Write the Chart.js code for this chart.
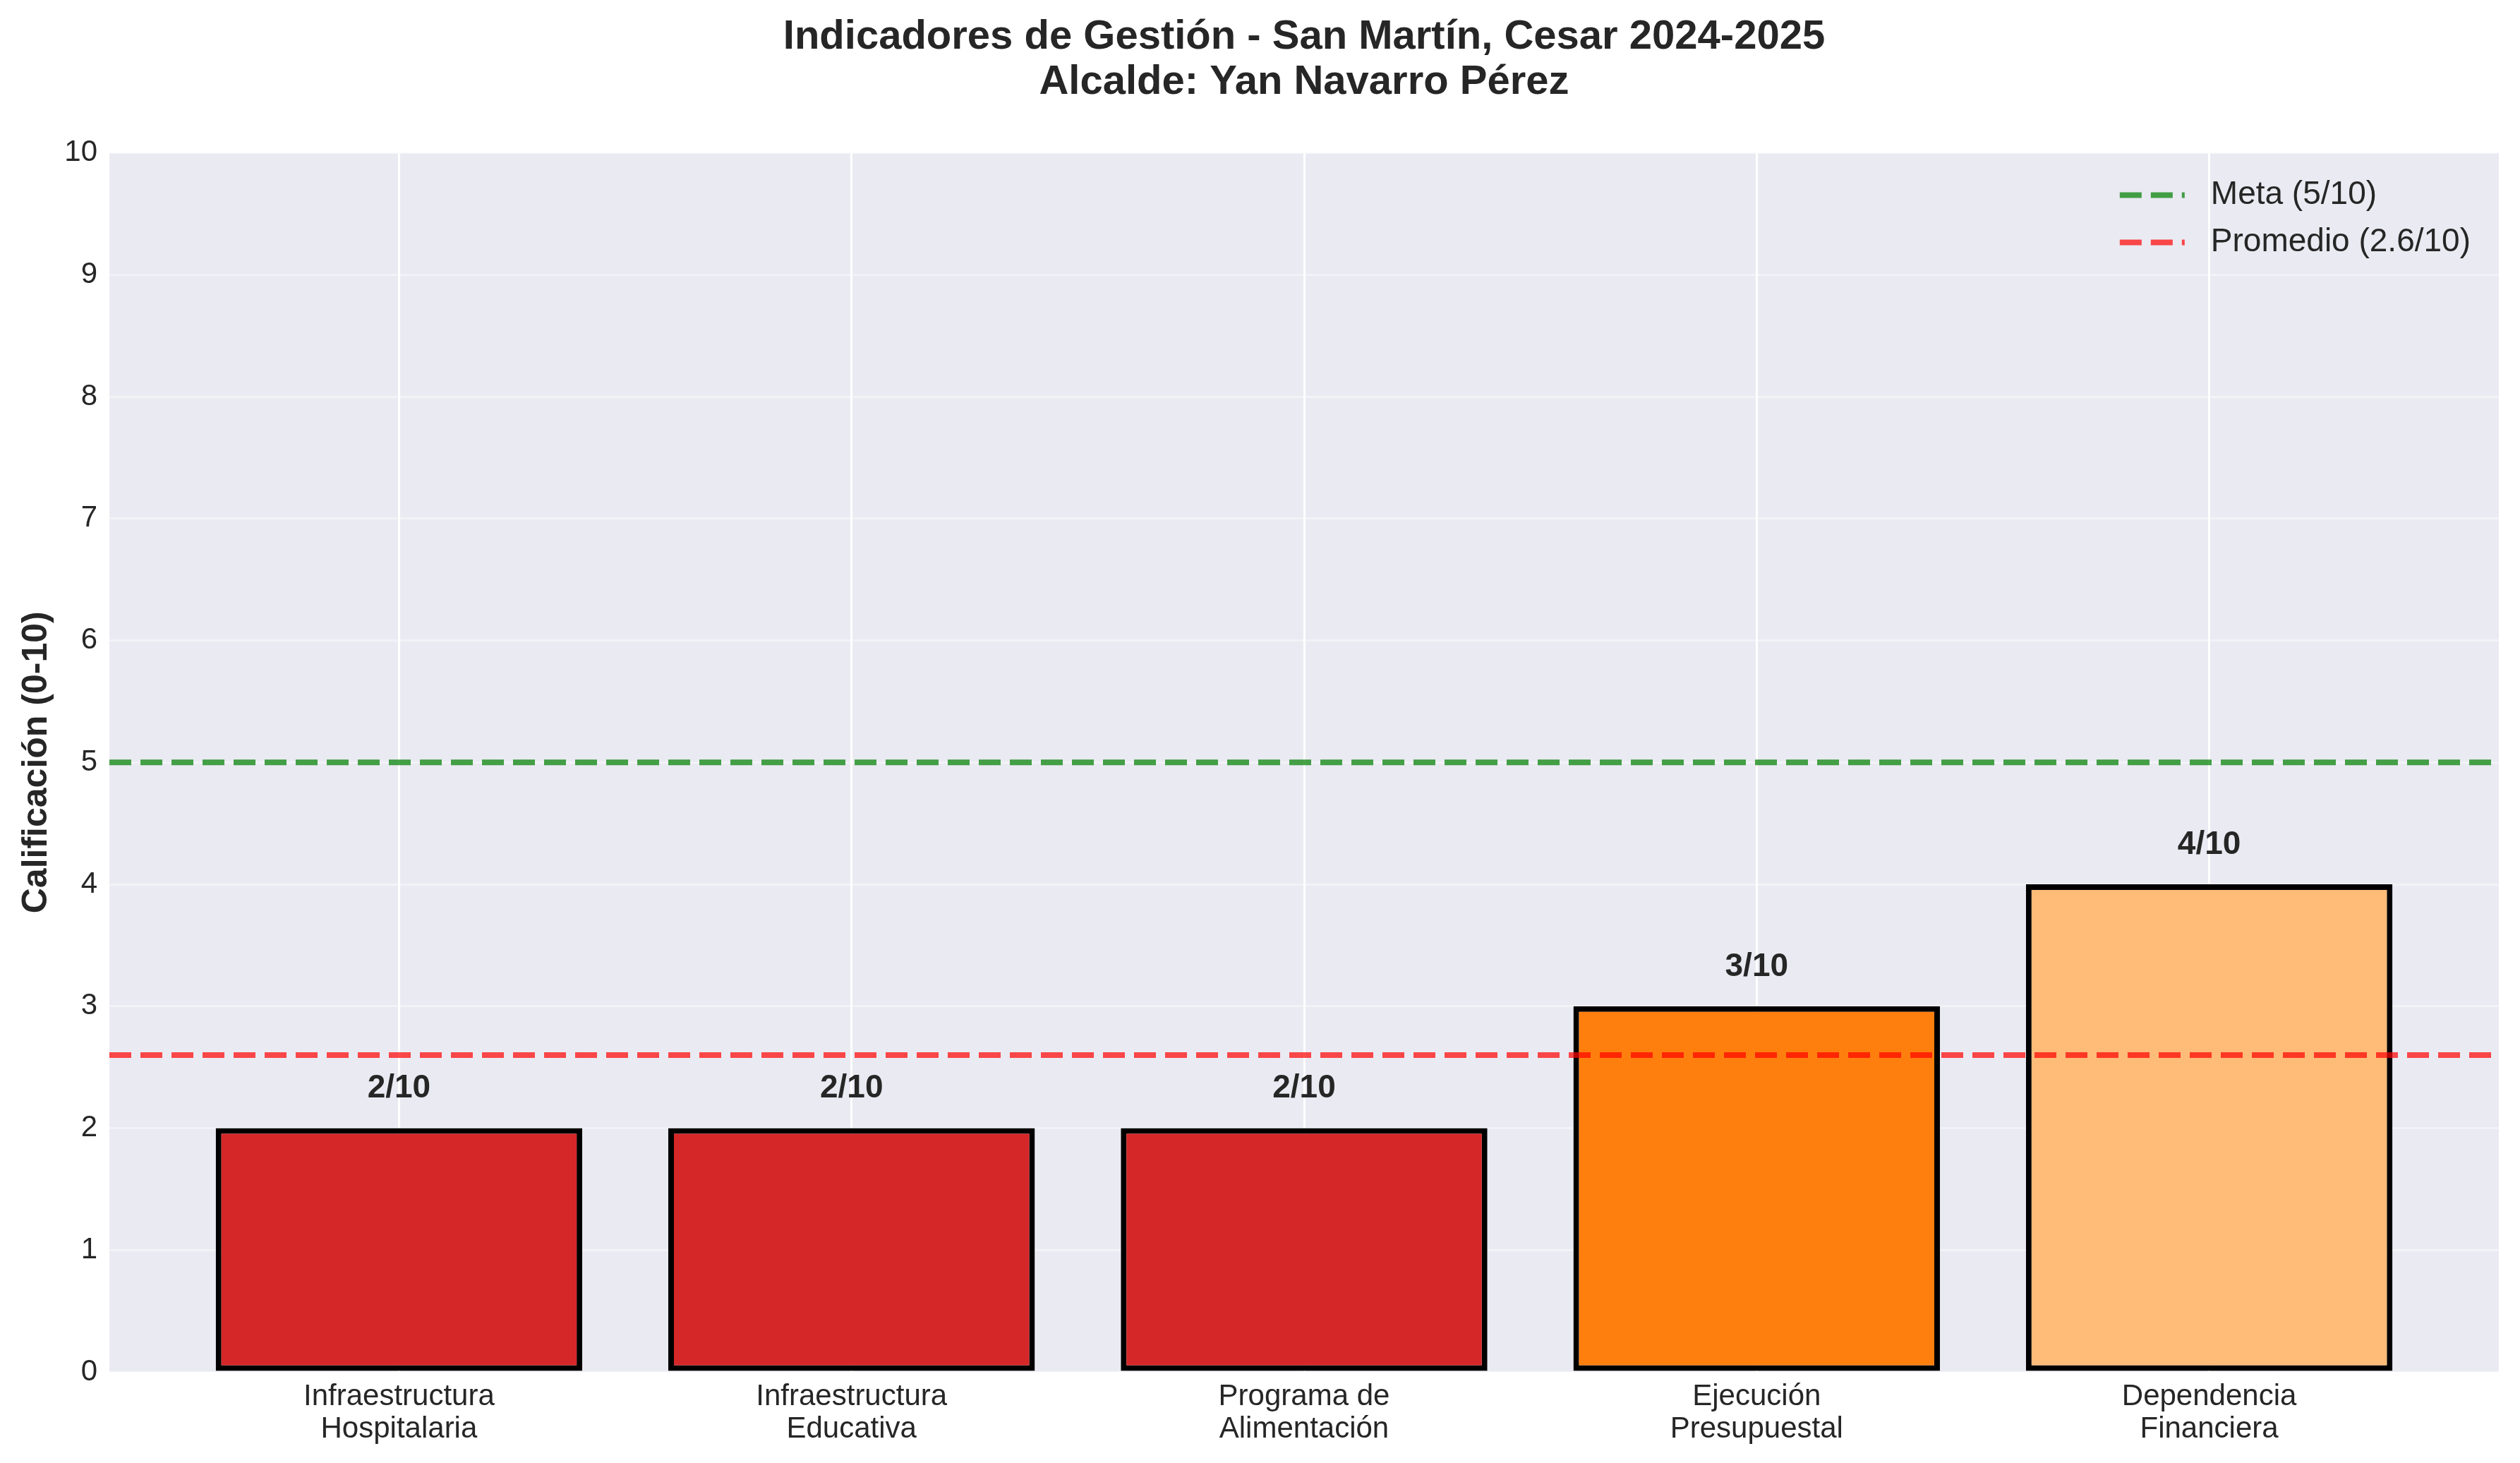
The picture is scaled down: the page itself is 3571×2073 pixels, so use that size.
<!DOCTYPE html>
<html>
<head>
<meta charset="utf-8">
<script src="https://cdn.jsdelivr.net/npm/chart.js@4.4.0/dist/chart.umd.min.js"></script>
<style>
  html, body { margin: 0; padding: 0; background: #fff; }
  canvas { display: block; }
</style>
</head>
<body>
<canvas id="grafico" width="3571" height="2073"></canvas>
<script>
// datos
const categorias = ['Infraestructura\nHospitalaria', 'Infraestructura\nEducativa', 'Programa de\nAlimentación', 'Ejecución\nPresupuestal', 'Dependencia\nFinanciera']
const calificaciones = [2, 2, 2, 3, 4]
const colores = ['#d62728', '#d62728', '#d62728', '#ff7f0e', '#ffbb78']
const meta = 5
const promedio = calificaciones.reduce((a, b) => a + b, 0) / calificaciones.length
const ticksY = [0, 1, 2, 3, 4, 5, 6, 7, 8, 9, 10]

const xMin = -0.64
const xMax = categorias.length - 1 + 0.64
const texto = '#262626'
const fuente = 'Liberation Sans'
const guiones = [31, 13]

Chart.defaults.font.family = fuente
Chart.defaults.color = texto

// fondo gris del area de trazado
const fondo = {
    id: 'fondo',
    beforeDraw(chart) {
        const {ctx, chartArea: a} = chart
        ctx.save()
        ctx.fillStyle = '#ffffff'
        ctx.fillRect(0, 0, chart.width, chart.height)
        ctx.fillStyle = '#eaeaf2'
        ctx.fillRect(a.left, a.top, a.right - a.left, a.bottom - a.top)
        ctx.restore()
    }
}

// etiquetas "n/10" encima de cada barra
const etiquetas = {
    id: 'etiquetas',
    afterDatasetsDraw(chart) {
        const {ctx, scales} = chart
        ctx.save()
        ctx.font = 'bold 46px "' + fuente + '"'
        ctx.fillStyle = texto
        ctx.textAlign = 'center'
        ctx.textBaseline = 'alphabetic'
        calificaciones.forEach((v, i) => {
            ctx.fillText(v + '/10', scales.x.getPixelForValue(i), scales.y.getPixelForValue(v + 0.25))
        })
        ctx.restore()
    }
}

// leyenda dentro del area, arriba a la derecha
const leyenda = {
    id: 'leyenda',
    afterDraw(chart) {
        const {ctx, chartArea: a} = chart
        const lineas = chart.data.datasets.filter(d => d.type === 'line')
        ctx.save()
        ctx.font = '46px "' + fuente + '"'
        const ancho = Math.max(...lineas.map(d => ctx.measureText(d.label).width))
        const xTexto = a.right - 40 - ancho
        const xFin = xTexto - 37
        const xIni = xFin - 92
        lineas.forEach((d, i) => {
            const y = a.top + 60 + i * 67
            ctx.strokeStyle = d.borderColor
            ctx.lineWidth = d.borderWidth
            ctx.setLineDash(guiones)
            ctx.beginPath()
            ctx.moveTo(xIni, y)
            ctx.lineTo(xFin, y)
            ctx.stroke()
            ctx.setLineDash([])
            ctx.fillStyle = texto
            ctx.textAlign = 'left'
            ctx.textBaseline = 'middle'
            ctx.fillText(d.label, xTexto, y)
        })
        ctx.restore()
    }
}

const lineaHorizontal = (valor, etiqueta, color) => ({
    type: 'line',
    label: etiqueta,
    data: [{x: xMin, y: valor}, {x: xMax, y: valor}],
    borderColor: color,
    borderWidth: 8,
    borderDash: guiones,
    pointRadius: 0,
    fill: false,
    order: 1
})

new Chart(document.getElementById('grafico'), {
    type: 'bar',
    data: {
        datasets: [
            {
                label: 'Calificación',
                data: calificaciones.map((v, i) => ({x: i, y: v})),
                backgroundColor: colores,
                borderColor: '#000000',
                borderWidth: 8,
                borderSkipped: false,
                barPercentage: 0.81,
                categoryPercentage: 1,
                order: 2
            },
            lineaHorizontal(meta, 'Meta (' + meta + '/10)', 'rgba(0,128,0,0.72)'),
            lineaHorizontal(promedio, 'Promedio (' + promedio.toFixed(1) + '/10)', 'rgba(255,0,0,0.7)')
        ]
    },
    options: {
        responsive: false,
        devicePixelRatio: 1,
        animation: false,
        layout: { padding: { left: 0, right: 30, top: 0, bottom: 0 } },
        plugins: {
            legend: { display: false },
            tooltip: { enabled: false },
            title: {
                display: true,
                fullSize: false,
                text: ['Indicadores de Gestión - San Martín, Cesar 2024-2025', 'Alcalde: Yan Navarro Pérez'],
                color: texto,
                font: { size: 58, weight: 'bold', lineHeight: 1.1 },
                padding: { top: 21, bottom: 68 }
            }
        },
        scales: {
            x: {
                type: 'linear',
                min: xMin,
                max: xMax,
                offset: false,
                afterBuildTicks: s => { s.ticks = categorias.map((c, i) => ({value: i})) },
                afterFit: s => { s.height = 129 },
                border: { display: false },
                grid: { color: '#ffffff', lineWidth: 3, drawTicks: false, offset: false },
                ticks: {
                    autoSkip: false,
                    maxRotation: 0,
                    padding: 13,
                    color: texto,
                    font: { size: 42, lineHeight: 1.08 },
                    callback: v => categorias[v].split('\n')
                }
            },
            y: {
                min: 0,
                max: 10,
                afterBuildTicks: s => { s.ticks = ticksY.map(v => ({value: v})) },
                afterFit: s => { s.width = 155 },
                border: { display: false },
                grid: { color: 'rgba(255,255,255,0.38)', lineWidth: 3, drawTicks: false },
                ticks: {
                    padding: 17,
                    color: texto,
                    font: { size: 42 }
                },
                title: {
                    display: true,
                    text: 'Calificación (0-10)',
                    color: texto,
                    font: { size: 50, weight: 'bold', lineHeight: 1.2 },
                    padding: { top: 22, bottom: 0 }
                }
            }
        }
    },
    plugins: [fondo, etiquetas, leyenda]
})
</script>
</body>
</html>
